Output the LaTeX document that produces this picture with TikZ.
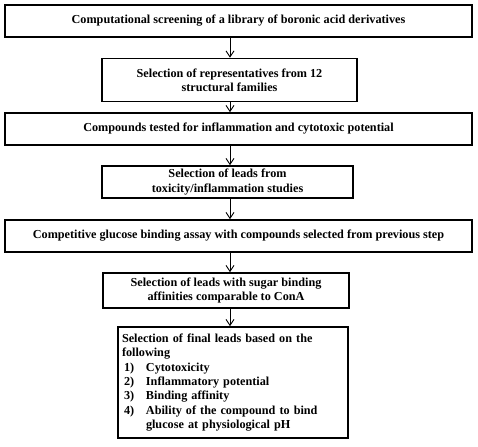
\documentclass[tikz,border=0pt]{standalone}
\usepackage{fontspec}
\setmainfont{Liberation Serif}
\usetikzlibrary{arrows.meta}

\tikzset{
  stagebox/.style={draw, line width=1.7pt, inner sep=2pt, align=center,
    font=\fontsize{12.2}{14.3}\selectfont\bfseries},
  flowarrow/.style={-{Straight Barb[length=6pt,width=8pt]}, line width=0.9pt}
}

\begin{document}
\begin{tikzpicture}[x=1pt, y=-1pt]
% Set the page to the size of the reference
\useasboundingbox (0, 0) rectangle (478, 446);

% Draw the stages, top to bottom
\node[stagebox, minimum width=467pt, minimum height=32pt] (screen) at (238.5, 21) {Computational screening of a library of boronic acid derivatives};
\node[stagebox, minimum width=255pt, minimum height=43pt] (repr) at (229.5, 80) {Selection of representatives from 12\\structural families};
\node[stagebox, minimum width=467pt, minimum height=32pt] (tested) at (238.5, 129) {Compounds tested for inflammation and cytotoxic potential};
\node[stagebox, minimum width=251pt, minimum height=32pt] (toxleads) at (227.5, 182) {Selection of leads from\\toxicity/inflammation studies};
\node[stagebox, minimum width=467pt, minimum height=32pt] (assay) at (238.5, 236) {Competitive glucose binding assay with compounds selected from previous step};
\node[stagebox, minimum width=246pt, minimum height=35pt] (sugar) at (226, 290.5) {Selection of leads with sugar binding\\affinities comparable to ConA};
\node[stagebox, minimum width=230pt, minimum height=111pt, align=left, text width=222pt] (final) at (233, 382.5) {Selection of final leads based on the\\following\\
\makebox[24pt][l]{\,1)}Cytotoxicity\\
\makebox[24pt][l]{\,2)}Inflammatory potential\\
\makebox[24pt][l]{\,3)}Binding affinity\\
\makebox[24pt][l]{\,4)}Ability of the compound to bind\\
\hspace*{24pt}glucose at physiological pH};

% Connect the stages
\draw[flowarrow] (screen.south -| 230, 0) -- (repr.north -| 230, 0);
\draw[flowarrow] (repr.south -| 230, 0) -- (tested.north -| 230, 0);
\draw[flowarrow] (tested.south -| 230, 0) -- (toxleads.north -| 230, 0);
\draw[flowarrow] (toxleads.south -| 230, 0) -- (assay.north -| 230, 0);
\draw[flowarrow] (assay.south -| 230, 0) -- (sugar.north -| 230, 0);
\draw[flowarrow] (sugar.south -| 230, 0) -- (final.north -| 230, 0);
\end{tikzpicture}
\end{document}
